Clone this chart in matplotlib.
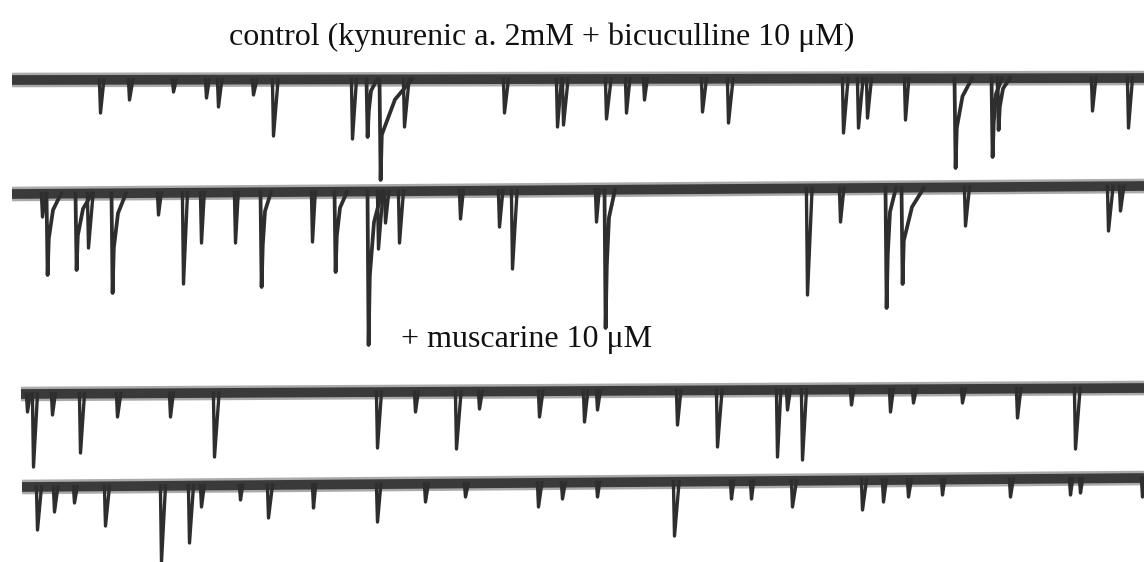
import matplotlib
matplotlib.use("Agg")
import matplotlib.pyplot as plt

# ---- data (time in arbitrary units, amplitude in display units, downward = inward current) ----
title_text = "control (kynurenic a. 2mM + bicuculline 10 \u03bcM)"
drug_text = "+ muscarine 10 \u03bcM"

# trace extents and baseline levels (start, end)
t1_range = (12, 1144); t1_base = (80, 78)
t2_range = (12, 1144); t2_base = (194, 186)
t3_range = (21, 1144); t3_base = (394, 388)
t4_range = (22, 1144); t4_base = (487, 478)

# events: onset time, peak level, decay duration
t1_time = [100, 129, 173, 206, 218, 253, 273, 352, 367, 380, 404, 504, 557, 563, 606, 626, 644, 702, 728,
           843, 858, 867, 905, 955, 992, 998, 1092, 1128]
t1_peak = [113, 100, 92, 98, 107, 95, 136, 139, 137, 180, 127, 113, 127, 125, 119, 113, 100, 112, 123,
           133, 128, 118, 120, 168, 157, 130, 111, 128]
t1_dur = [4, 4, 3, 3, 4, 4, 6, 5, 8, 30, 6, 5, 5, 6, 6, 4, 3, 5, 6, 6, 6, 5, 4, 15, 8, 10, 4, 5]

t2_time = [42, 47, 76, 88, 112, 158, 183, 201, 235, 261, 312, 335, 368, 378, 385, 399, 460, 499, 512,
           596, 605, 807, 840, 886, 902, 965, 1108, 1120]
t2_peak = [217, 275, 270, 248, 293, 215, 284, 243, 243, 287, 242, 272, 345, 249, 223, 243, 219, 227, 269,
           222, 328, 295, 222, 308, 284, 226, 231, 211]
t2_dur = [4, 12, 14, 6, 12, 3, 5, 3, 3, 8, 3, 10, 12, 6, 4, 5, 3, 4, 6, 3, 8, 6, 4, 8, 20, 5, 6, 4]

t3_time = [27, 33, 52, 80, 117, 170, 214, 377, 415, 456, 479, 539, 584, 597, 677, 717, 777, 787, 802,
           851, 890, 913, 962, 1017, 1075]
t3_peak = [412, 467, 415, 453, 417, 417, 457, 448, 412, 449, 409, 417, 422, 410, 425, 447, 457, 410, 460,
           405, 412, 403, 403, 418, 449]
t3_dur = [3, 5, 3, 5, 4, 3, 6, 5, 3, 6, 3, 4, 4, 3, 4, 6, 4, 3, 5, 2, 3, 3, 3, 4, 6]

t4_time = [37, 54, 74, 105, 161, 189, 201, 240, 268, 313, 377, 425, 465, 538, 562, 597, 674, 731, 751,
           792, 862, 883, 908, 942, 1010, 1070, 1080, 1142]
t4_peak = [530, 512, 503, 526, 562, 543, 507, 500, 518, 508, 522, 502, 497, 507, 499, 497, 536, 499, 499,
           507, 510, 502, 497, 495, 497, 495, 493, 497]
t4_dur = [5, 4, 3, 5, 5, 5, 3, 2, 5, 2, 4, 3, 3, 4, 3, 2, 6, 2, 2, 5, 5, 3, 3, 2, 3, 2, 2, 2]

traces = [
    (t1_range, t1_base, t1_time, t1_peak, t1_dur),
    (t2_range, t2_base, t2_time, t2_peak, t2_dur),
    (t3_range, t3_base, t3_time, t3_peak, t3_dur),
    (t4_range, t4_base, t4_time, t4_peak, t4_dur),
]

W, H = 1144, 562
fig = plt.figure(figsize=(W / 100, H / 100), dpi=100)
ax = fig.add_axes([0, 0, 1, 1])
ax.set_xlim(0, W)
ax.set_ylim(H, 0)
ax.axis("off")

col = "#2e2e2e"

def base_at(rng, base, x):
    return base[0] + (base[1] - base[0]) * (x - rng[0]) / (rng[1] - rng[0])

for rng, base, times, peaks, durs in traces:
    # noisy baseline band: faint outer fringe + dark core
    ax.plot([rng[0], rng[1]], [base[0], base[1]], color="#444444", lw=10.5, alpha=0.45,
            solid_capstyle="butt")
    ax.plot([rng[0], rng[1]], [base[0], base[1]], color="#3a3a3a", lw=7.0,
            solid_capstyle="butt")
    # synaptic events
    for t, p, d in zip(times, peaks, durs):
        b = base_at(rng, base, t)
        amp = p - b
        if d >= 8:
            xs = [t - 0.5, t + 0.6, t + 1.8, t + 0.5 * d, t + d + 2]
            ys = [b, b + amp, b + 0.55 * amp, b + 0.2 * amp, b]
            ax.plot(xs, ys, color=col, lw=2.7, solid_joinstyle="round")
        else:
            xs = [t - 0.6, t + 0.5, t + 0.6 * d + 1.5]
            ys = [b, b + amp, b]
            ax.plot(xs, ys, color=col, lw=2.4, solid_joinstyle="round")

ax.text(542, 45, title_text, family="Liberation Serif", fontsize=23, color="#111111",
        ha="center", va="baseline")
ax.text(527, 347, drug_text, family="Liberation Serif", fontsize=23, color="#111111",
        ha="center", va="baseline")

fig.savefig("out.png", dpi=100)
